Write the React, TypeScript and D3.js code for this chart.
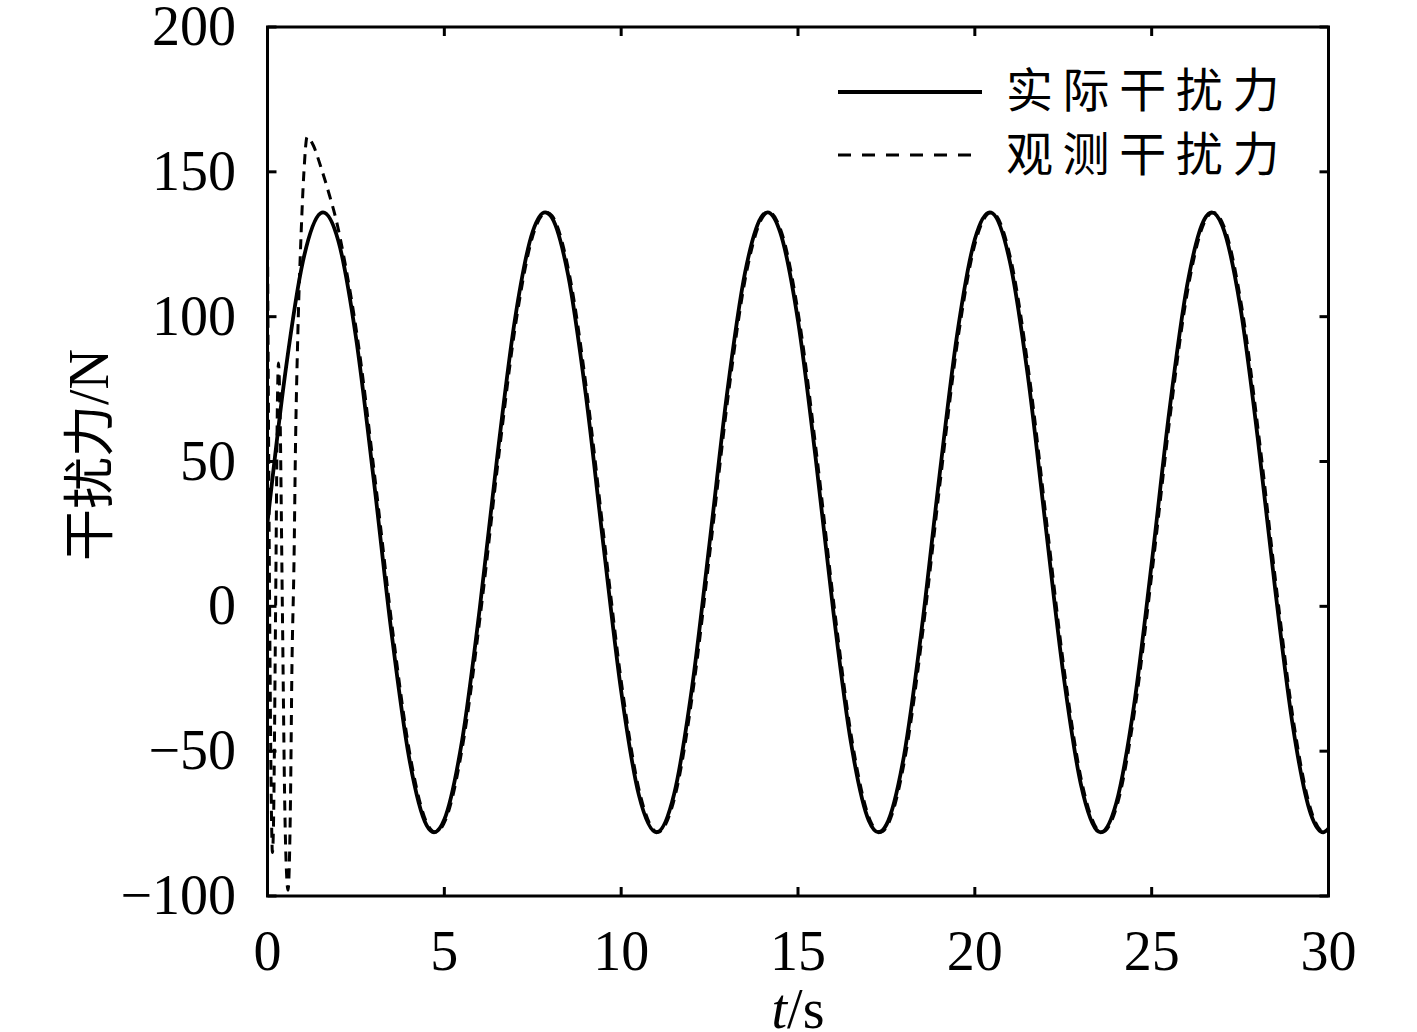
import React from "react";
import * as d3 from "d3";

// ---- data ----
const xTicks = [0, 5, 10, 15, 20, 25, 30];
const yTicks = [-100, -50, 0, 50, 100, 150, 200];
const xTickLabels = ["0", "5", "10", "15", "20", "25", "30"];
const yTickLabels = ["\u2212100", "\u221250", "0", "50", "100", "150", "200"];
const seriesNames = ["实际干扰力", "观测干扰力"];

const actualT = [0, 0.5, 1.0, 1.5, 1.57, 2.0, 2.5, 3.0, 3.5, 4.0, 4.5, 4.71, 5.0, 5.5, 6.0, 6.5, 7.0, 7.5, 7.85, 8.0, 8.5, 9.0, 9.5, 10.0, 10.5, 11.0, 11.5, 12.0, 12.5, 13.0, 13.5, 14.0, 14.14, 14.5, 15.0, 15.5, 16.0, 16.5, 17.0, 17.28, 17.5, 18.0, 18.5, 19.0, 19.5, 20.0, 20.42, 20.5, 21.0, 21.5, 22.0, 22.5, 23.0, 23.5, 23.56, 24.0, 24.5, 25.0, 25.5, 26.0, 26.5, 26.7, 27.0, 27.5, 28.0, 28.5, 29.0, 29.5, 29.85, 30.0];
const actualV = [29, 80.3, 119.0, 135.7, 136, 126.3, 93.0, 44.1, -8.5, -52.0, -75.6, -78, -73.6, -46.5, -0.9, 52.0, 99.3, 129.4, 136, 134.9, 114.4, 73.1, 21.0, -29.2, -65.1, -78.0, -64.7, -28.4, 21.9, 74.0, 115.0, 135.0, 136, 129.0, 98.6, 51.1, -1.8, -47.2, -73.9, -78, -75.4, -51.4, -7.6, 45.0, 93.8, 126.7, 136, 135.7, 118.5, 79.5, 28.0, -23.1, -61.5, -77.8, -78, -67.9, -34.3, 14.8, 67.4, 110.6, 133.8, 136, 131.3, 103.9, 58.0, 5.1, -42.0, -71.7, -78, -76.7];

const observedT = [0, 0.06, 0.11, 0.14, 0.17, 0.23, 0.28, 0.31, 0.35, 0.42, 0.49, 0.55, 0.58, 0.65, 0.69, 0.75, 0.79, 0.86, 0.95, 1.03, 1.12, 1.3, 1.5, 1.75, 1.95, 2.2, 2.54, 3.04, 3.54, 4.04, 4.54, 4.75, 5.04, 5.54, 6.04, 6.54, 7.04, 7.54, 7.89, 8.04, 8.54, 9.04, 9.54, 10.04, 10.54, 11.04, 11.54, 12.04, 12.54, 13.04, 13.54, 14.04, 14.18, 14.54, 15.04, 15.54, 16.04, 16.54, 17.04, 17.32, 17.54, 18.04, 18.54, 19.04, 19.54, 20.04, 20.46, 20.54, 21.04, 21.54, 22.04, 22.54, 23.04, 23.54, 23.6, 24.04, 24.54, 25.04, 25.54, 26.04, 26.54, 26.74, 27.04, 27.54, 28.04, 28.54, 29.04, 29.54, 29.89, 30.0];
const observedV = [129, 0, -70, -85, -75, 0, 70, 84, 70, 0, -70, -95, -98, -67, -22, 16, 54, 95, 128.5, 150, 162, 159, 152, 142, 133, 118, 93.0, 44.1, -8.5, -52.0, -75.6, -78, -73.6, -46.5, -0.9, 52.0, 99.3, 129.4, 136, 134.9, 114.4, 73.1, 21.0, -29.2, -65.1, -78.0, -64.7, -28.4, 21.9, 74.0, 115.0, 135.0, 136, 129.0, 98.6, 51.1, -1.8, -47.2, -73.9, -78, -75.4, -51.4, -7.6, 45.0, 93.8, 126.7, 136, 135.7, 118.5, 79.5, 28.0, -23.1, -61.5, -77.8, -78, -67.9, -34.3, 14.8, 67.4, 110.6, 133.8, 136, 131.3, 103.9, 58.0, 5.1, -42.0, -71.7, -78, -77.5];

const W = 1417;
const H = 1032;
const M = { left: 267.5, right: 1328.5, top: 27, bottom: 896 };

export default function App() {
  const x = d3.scaleLinear().domain([0, 30]).range([M.left, M.right]);
  const y = d3.scaleLinear().domain([-100, 200]).range([M.bottom, M.top]);

  const actual = actualT.map((t, i) => [t, actualV[i]] as [number, number]);
  const observed = observedT.map((t, i) => [t, observedV[i]] as [number, number]);

  const line = d3
    .line<[number, number]>()
    .x((d) => x(d[0]))
    .y((d) => y(d[1]))
    .curve(d3.curveMonotoneX);

  const serif = "'Liberation Serif', 'Times New Roman', serif";
  const cjk = "'Noto Sans CJK SC', sans-serif";
  const tickLen = 9;

  return (
    <svg
      width={W}
      height={H}
      style={{ position: "absolute", left: 0, top: 0, background: "#fff" }}
    >
      <defs>
        <clipPath id="plotClip">
          <rect x={M.left} y={M.top} width={M.right - M.left} height={M.bottom - M.top} />
        </clipPath>
      </defs>
      <rect x={0} y={0} width={W} height={H} fill="#fff" />

      {/* series */}
      <g clipPath="url(#plotClip)">
        <path d={line(actual) || ""} fill="none" stroke="#000" strokeWidth={3.8} />
        <path
          d={line(observed) || ""}
          fill="none"
          stroke="#000"
          strokeWidth={3}
          strokeDasharray="10,7"
        />
      </g>

      {/* frame */}
      <rect
        x={M.left}
        y={M.top}
        width={M.right - M.left}
        height={M.bottom - M.top}
        fill="none"
        stroke="#000"
        strokeWidth={3}
      />

      {/* x ticks */}
      {xTicks.map((t, i) => (
        <g key={"xt" + i}>
          <line x1={x(t)} x2={x(t)} y1={M.bottom} y2={M.bottom - tickLen} stroke="#000" strokeWidth={3} />
          <line x1={x(t)} x2={x(t)} y1={M.top} y2={M.top + tickLen} stroke="#000" strokeWidth={3} />
          <text x={x(t)} y={970} textAnchor="middle" fontFamily={serif} fontSize={56}>
            {xTickLabels[i]}
          </text>
        </g>
      ))}

      {/* y ticks */}
      {yTicks.map((t, i) => (
        <g key={"yt" + i}>
          <line x1={M.left} x2={M.left + tickLen} y1={y(t)} y2={y(t)} stroke="#000" strokeWidth={3} />
          <line x1={M.right} x2={M.right - tickLen} y1={y(t)} y2={y(t)} stroke="#000" strokeWidth={3} />
          <text x={236} y={y(t) + 18} textAnchor="end" fontFamily={serif} fontSize={56}>
            {yTickLabels[i]}
          </text>
        </g>
      ))}

      {/* axis titles */}
      <text x={798} y={1028} textAnchor="middle" fontFamily={serif} fontSize={56}>
        <tspan fontStyle="italic">t</tspan>
        <tspan>/s</tspan>
      </text>
      <text
        transform="translate(108,455) rotate(-90)"
        textAnchor="middle"
        fontSize={52}
      >
        <tspan fontFamily={cjk}>干扰力</tspan>
        <tspan fontFamily={serif} fontSize={56}>/N</tspan>
      </text>

      {/* legend */}
      <line x1={838} x2={982} y1={92} y2={92} stroke="#000" strokeWidth={3.8} />
      <line x1={838} x2={972} y1={155} y2={155} stroke="#000" strokeWidth={3} strokeDasharray="13,11" />
      <text x={1006} y={107} fontFamily={cjk} fontSize={47} letterSpacing={9.6}>
        {seriesNames[0]}
      </text>
      <text x={1006} y={171} fontFamily={cjk} fontSize={47} letterSpacing={9.6}>
        {seriesNames[1]}
      </text>
    </svg>
  );
}
